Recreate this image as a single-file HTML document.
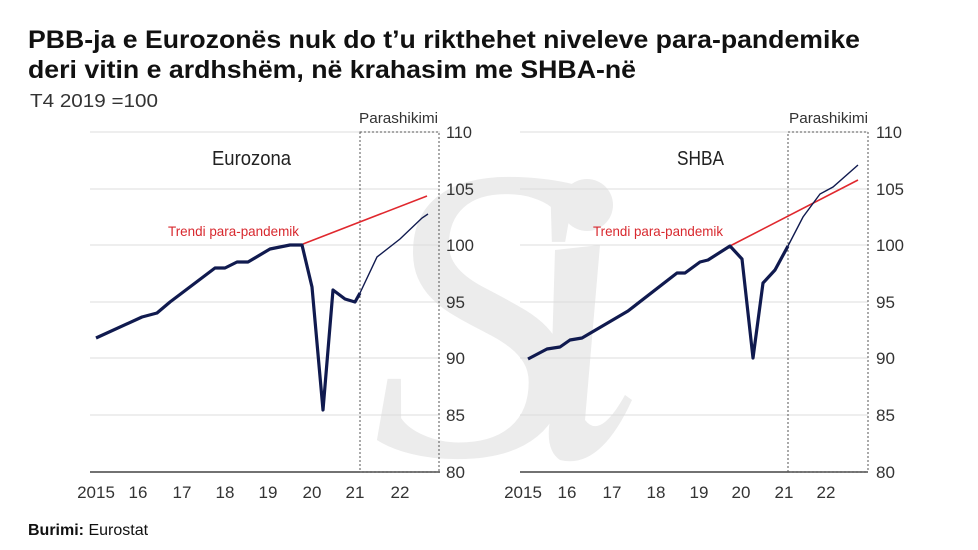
<!DOCTYPE html>
<html><head><meta charset="utf-8"><style>
html,body{margin:0;padding:0;background:#fff}
svg{display:block}
text{font-family:"Liberation Sans",sans-serif}
</style></head><body>
<svg width="978" height="550" viewBox="0 0 978 550" xmlns="http://www.w3.org/2000/svg">
<rect width="978" height="550" fill="#fff"/>
<!-- watermark -->
<text x="372" y="455" font-style="italic" font-size="420" fill="#ececec" style="font-family:'Liberation Serif',serif">S</text>
<circle cx="587" cy="205" r="26" fill="#ececec"/>
<path d="M555 250 L600 245 L585 420 Q600 440 625 395 L632 400 Q600 470 560 460 Q545 450 550 420 Z" fill="#ececec"/>

<text x="28" y="48" font-size="25" font-weight="bold" textLength="832" lengthAdjust="spacingAndGlyphs" fill="#111">PBB-ja e Eurozonës nuk do t’u rikthehet niveleve para-pandemike</text>
<text x="28" y="78" font-size="25" font-weight="bold" textLength="608" lengthAdjust="spacingAndGlyphs" fill="#111">deri vitin e ardhshëm, në krahasim me SHBA-në</text>
<text x="30" y="107" font-size="18" textLength="128" lengthAdjust="spacingAndGlyphs" fill="#333">T4  2019 =100</text>

<g stroke="#ddd" stroke-width="1">
<line x1="90" y1="132" x2="440" y2="132"/><line x1="90" y1="189" x2="440" y2="189"/><line x1="90" y1="245" x2="440" y2="245"/><line x1="90" y1="302" x2="440" y2="302"/><line x1="90" y1="358" x2="440" y2="358"/><line x1="90" y1="415" x2="440" y2="415"/>
<line x1="520" y1="132" x2="868" y2="132"/><line x1="520" y1="189" x2="868" y2="189"/><line x1="520" y1="245" x2="868" y2="245"/><line x1="520" y1="302" x2="868" y2="302"/><line x1="520" y1="358" x2="868" y2="358"/><line x1="520" y1="415" x2="868" y2="415"/>
</g>
<line x1="90" y1="472" x2="440" y2="472" stroke="#444" stroke-width="1.5"/>
<line x1="520" y1="472" x2="868" y2="472" stroke="#444" stroke-width="1.5"/>
<rect x="360" y="132" width="79" height="340" fill="none" stroke="#555" stroke-width="1" stroke-dasharray="2,2"/>
<rect x="788" y="132" width="80" height="340" fill="none" stroke="#555" stroke-width="1" stroke-dasharray="2,2"/>
<text x="359" y="123" font-size="15" textLength="79" lengthAdjust="spacingAndGlyphs" fill="#333">Parashikimi</text>
<text x="789" y="123" font-size="15" textLength="79" lengthAdjust="spacingAndGlyphs" fill="#333">Parashikimi</text>

<g font-size="17" fill="#333">
<text x="446" y="138" textLength="26" lengthAdjust="spacingAndGlyphs">110</text><text x="446" y="195" textLength="28" lengthAdjust="spacingAndGlyphs">105</text><text x="446" y="251" textLength="28" lengthAdjust="spacingAndGlyphs">100</text><text x="446" y="308" textLength="19" lengthAdjust="spacingAndGlyphs">95</text><text x="446" y="364" textLength="19" lengthAdjust="spacingAndGlyphs">90</text><text x="446" y="421" textLength="19" lengthAdjust="spacingAndGlyphs">85</text><text x="446" y="478" textLength="19" lengthAdjust="spacingAndGlyphs">80</text>
<text x="876" y="138" textLength="26" lengthAdjust="spacingAndGlyphs">110</text><text x="876" y="195" textLength="28" lengthAdjust="spacingAndGlyphs">105</text><text x="876" y="251" textLength="28" lengthAdjust="spacingAndGlyphs">100</text><text x="876" y="308" textLength="19" lengthAdjust="spacingAndGlyphs">95</text><text x="876" y="364" textLength="19" lengthAdjust="spacingAndGlyphs">90</text><text x="876" y="421" textLength="19" lengthAdjust="spacingAndGlyphs">85</text><text x="876" y="478" textLength="19" lengthAdjust="spacingAndGlyphs">80</text>
</g>
<g font-size="17" fill="#333" text-anchor="middle">
<text x="96" y="498">2015</text><text x="138" y="498">16</text><text x="182" y="498">17</text><text x="225" y="498">18</text><text x="268" y="498">19</text><text x="312" y="498">20</text><text x="355" y="498">21</text><text x="400" y="498">22</text>
<text x="523" y="498">2015</text><text x="567" y="498">16</text><text x="612" y="498">17</text><text x="656" y="498">18</text><text x="699" y="498">19</text><text x="741" y="498">20</text><text x="784" y="498">21</text><text x="826" y="498">22</text>
</g>
<text x="212" y="165" font-size="20" textLength="79" lengthAdjust="spacingAndGlyphs" fill="#222">Eurozona</text>
<text x="677" y="165" font-size="20" textLength="47" lengthAdjust="spacingAndGlyphs" fill="#222">SHBA</text>
<text x="168" y="236" font-size="14" textLength="131" lengthAdjust="spacingAndGlyphs" fill="#d8282e">Trendi para-pandemik</text>
<text x="593" y="236" font-size="14" textLength="130" lengthAdjust="spacingAndGlyphs" fill="#d8282e">Trendi para-pandemik</text>

<line x1="303" y1="244" x2="427" y2="196" stroke="#e0282e" stroke-width="1.6"/>
<line x1="730" y1="246" x2="858" y2="180" stroke="#e0282e" stroke-width="1.6"/>

<polyline fill="none" stroke="#101a4f" stroke-width="3.2" stroke-linejoin="round" points="96,338 142,317 157,313 170,302 215,268 225,268 237,262 248,262 270,249 290,245 302,245 312,287 323,410 333,290 345,299 355,302 360,293"/>
<polyline fill="none" stroke="#101a4f" stroke-width="1.4" points="360,293 377,257 400,239 422,218 428,214"/>
<polyline fill="none" stroke="#101a4f" stroke-width="3.2" stroke-linejoin="round" points="528,359 547,349 560,347 570,340 582,338 628,311 677,273 685,273 700,262 708,260 730,246 742,259 753,358 763,283 775,270 788,246"/>
<polyline fill="none" stroke="#101a4f" stroke-width="1.4" points="788,246 803,217 820,194 833,187 858,165"/>

<text x="28" y="535" font-size="16" fill="#111"><tspan font-weight="bold">Burimi:</tspan> Eurostat</text>
</svg>
</body></html>
